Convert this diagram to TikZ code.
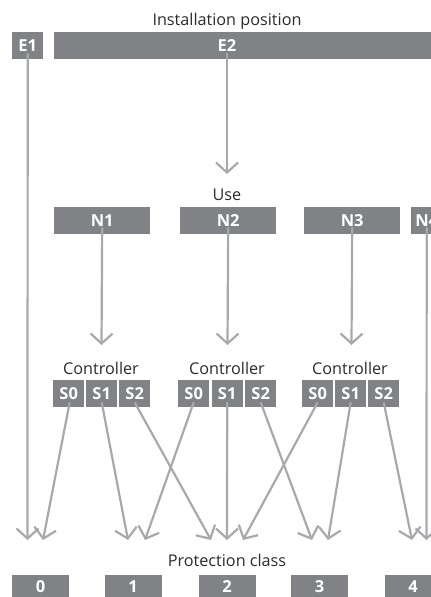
\documentclass[tikz,border=0pt]{standalone}
\usepackage{fontspec}
\setmainfont{Open Sans}
\usetikzlibrary{arrows.meta}
\definecolor{boxgray}{HTML}{808285}
\definecolor{arrowgray}{HTML}{A7A9AC}
\definecolor{txtgray}{HTML}{2B2B2B}
\begin{document}
\begin{tikzpicture}[x=1pt,y=-1pt,
  boxfont/.style={text=white,font=\fontsize{16.5}{18}\selectfont\bfseries},
  box/.style={fill=boxgray,boxfont,inner sep=0pt,minimum height=27pt,anchor=north west},
  classbox/.style={box,minimum width=57pt,minimum height=22pt},
  lbl/.style={text=txtgray,font=\fontsize{16.2}{18}\selectfont,inner sep=0pt},
  arr/.style={draw=arrowgray,line width=2.2pt,-{Straight Barb[length=10pt,width=22pt,line width=2.2pt]}}
]
\useasboundingbox (0,0) rectangle (431,597);
\clip (0,0) rectangle (431,597);
% labels
\node[lbl] (linst) at (227,21) {Installation position};
\node[lbl] (luse) at (227,195) {Use};
\node[lbl] (lc1) at (101,368) {Controller};
\node[lbl] (lc2) at (227,368) {Controller};
\node[lbl] (lc3) at (350,368) {Controller};
\node[lbl] (lpc) at (227,560) {Protection class};
% installation
\node[box,minimum width=31pt] (E1) at (12,32) {E1};
\node[box,minimum width=388pt] (E2) at (54,32) {};
\node[boxfont,inner sep=0pt] (E2t) at (227,45.5) {E2};
% use
\node[box,minimum width=96pt] (N1) at (54,207) {N1};
\node[box,minimum width=96pt] (N2) at (180,207) {N2};
\node[box,minimum width=96pt] (N3) at (304,207) {N3};
\node[box,minimum width=31pt] (N4) at (411,207) {N4};
% controllers
\node[box,minimum width=31pt] (aS0) at (53,380) {S0};
\node[box,minimum width=31pt] (aS1) at (86,380) {S1};
\node[box,minimum width=31pt] (aS2) at (119,380) {S2};
\node[box,minimum width=31pt] (bS0) at (178,380) {S0};
\node[box,minimum width=31pt] (bS1) at (211.5,380) {S1};
\node[box,minimum width=31pt] (bS2) at (245,380) {S2};
\node[box,minimum width=31pt] (cS0) at (302,380) {S0};
\node[box,minimum width=31pt] (cS1) at (335,380) {S1};
\node[box,minimum width=31pt] (cS2) at (368,380) {S2};
% classes
\node[classbox] (P0) at (12,575) {0};
\node[classbox] (P1) at (104.5,575) {1};
\node[classbox] (P2) at (198.5,575) {2};
\node[classbox] (P3) at (291,575) {3};
\node[classbox] (P4) at (384.5,575) {4};
% tip coordinates
\coordinate (uTip) at (227,174);
\coordinate (n1Tip) at (101.5,345);
\coordinate (n2Tip) at (227.5,345);
\coordinate (n3Tip) at (351.5,345);
\coordinate (t0a) at (27.5,540);
\coordinate (t0b) at (43,540);
\coordinate (t1a) at (128,540);
\coordinate (t1b) at (145,540);
\coordinate (t2a) at (211,540);
\coordinate (t2b) at (227,540);
\coordinate (t2c) at (243,540);
\coordinate (t3a) at (312,540);
\coordinate (t3b) at (328,540);
\coordinate (t4a) at (412,540);
\coordinate (t4b) at (426.5,540);
% arrows
\draw[arr] ([yshift=6pt]E1.south) -- (t0a);
\draw[arr] ([yshift=6pt]E2t.south |- E2.south) -- (uTip);
\draw[arr] ([yshift=7pt]N1.south) -- (n1Tip);
\draw[arr] ([yshift=7pt]N2.south) -- (n2Tip);
\draw[arr] ([yshift=7pt]N3.south) -- (n3Tip);
\draw[arr] ([yshift=7pt]N4.south) -- (t4b);
\draw[arr] ([yshift=5pt,xshift=1pt]aS0.south) -- (t0b);
\draw[arr] ([yshift=5pt]aS1.south) -- (t1a);
\draw[arr] ([yshift=5pt]aS2.south) -- (t2a);
\draw[arr] ([yshift=5pt]bS0.south) -- (t1b);
\draw[arr] ([yshift=5pt]bS1.south) -- (t2b);
\draw[arr] ([yshift=5pt]bS2.south) -- (t3a);
\draw[arr] ([yshift=5pt]cS0.south) -- (t2c);
\draw[arr] ([yshift=5pt]cS1.south) -- (t3b);
\draw[arr] ([yshift=5pt]cS2.south) -- (t4a);
\end{tikzpicture}
\end{document}
